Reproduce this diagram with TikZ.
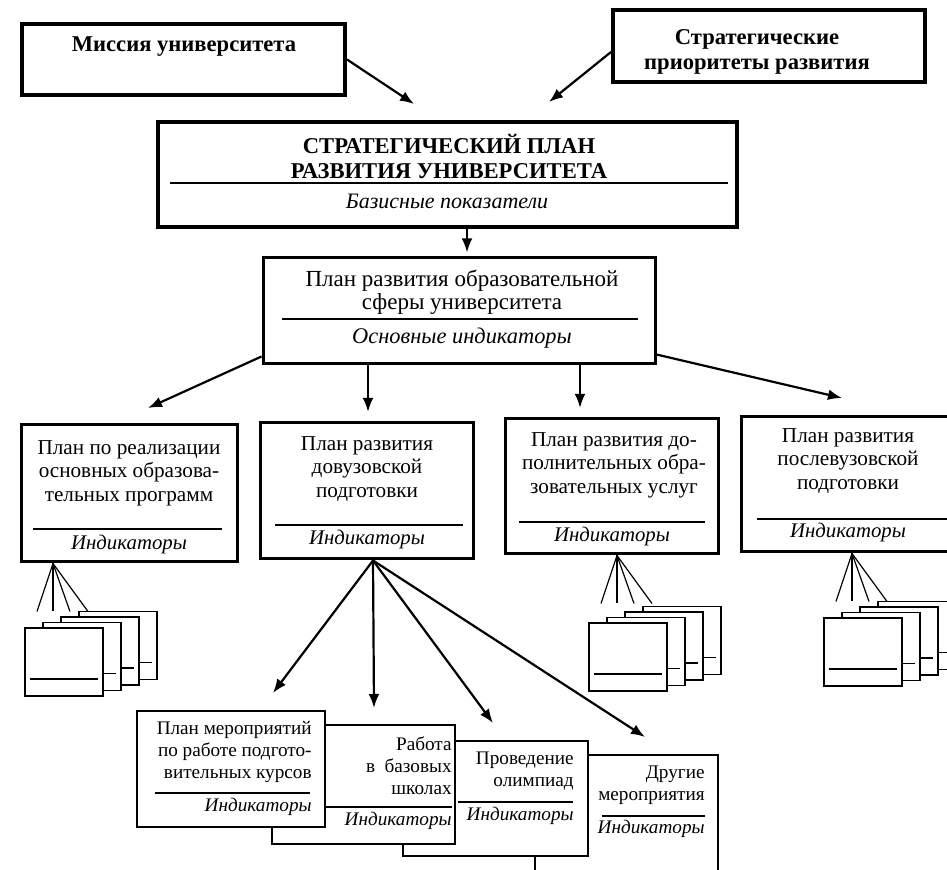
\documentclass[tikz,border=0pt]{standalone}
\usepackage{fontspec}
\setmainfont{Liberation Serif}
\usetikzlibrary{arrows.meta}

\begin{document}
\begin{tikzpicture}[x=0.5pt, y=-0.5pt,
    topbox/.style  = {draw, line width=2pt, inner sep=0pt},
    planbox/.style = {draw, fill=white, line width=1.5pt, inner sep=0pt},
    subbox/.style  = {draw, fill=white, line width=0.9pt, inner sep=0pt},
    card/.style    = {draw, fill=white, line width=0.7pt},
    head/.style    = {font=\fontsize{11.3}{12.5}\selectfont\bfseries, align=center, inner sep=0pt},
    txt/.style     = {font=\fontsize{10.6}{11.8}\selectfont, align=center, inner sep=0pt},
    small/.style   = {font=\fontsize{9.6}{11}\selectfont, align=right, inner sep=0pt, anchor=east},
    ind/.style     = {font=\fontsize{10.4}{12}\selectfont\itshape, inner sep=0pt},
    rule/.style    = {line width=0.7pt},
    arr/.style     = {line width=1.1pt, -{Latex[length=7pt, width=5.4pt]}},
    fan/.style     = {line width=0.6pt}]

  \useasboundingbox (0,0) rectangle (947,870);
  \clip (0,0) rectangle (947,870);

  % top level
  \node [topbox, minimum width=161.5pt, minimum height=35.5pt] (mission) at (183.5,59.5) {};
  \node [head] (missiontxt) at (184,47) {Миссия университета};

  \node [topbox, minimum width=156pt, minimum height=36pt] (prior) at (769,46) {};
  \node [head] (priortxt) at (757,52) {Стратегические\\приоритеты развития};

  \node [topbox, minimum width=289.5pt, minimum height=52.5pt] (strat) at (447.5,174.5) {};
  \node [head] (strattxt) at (449,156) {СТРАТЕГИЧЕСКИЙ ПЛАН\\РАЗВИТИЯ УНИВЕРСИТЕТА};
  \draw [line width=0.9pt] (170,183) -- (728,183);
  \node [ind, font=\fontsize{11}{12}\selectfont\itshape] (stratind) at (447,201) {Базисные показатели};

  \coordinate (mtip) at (414,104);
  \coordinate (ptip) at (549,102);
  \draw [arr] (mission.east) -- (mtip);
  \draw [arr] ([yshift=-3pt]prior.west) -- (ptip);

  % education plan
  \node [planbox, minimum width=196pt, minimum height=53pt] (edu) at (459,311) {};
  \node [txt, font=\fontsize{11.5}{11.5}\selectfont] (edutxt) at (462,292) {План развития образовательной\\сферы университета};
  \draw [rule] (282,319) -- (638,319);
  \node [ind, font=\fontsize{11.2}{12}\selectfont\itshape] (eduind) at (462,338) {Основные индикаторы};

  \draw [arr, shorten >=2pt] ([xshift=9.75pt]strat.south) -- ([xshift=4pt]edu.north);

  % second row
  \node [planbox, minimum width=108pt, minimum height=68.5pt] (basic) at (129,493.5) {};
  \node [txt] (basictxt) at (129,473) {План по реализации\\основных образова-\\тельных программ};
  \draw [rule] (33,529) -- (222,529);
  \node [ind] (basicind) at (129,544) {Индикаторы};

  \node [planbox, minimum width=106.5pt, minimum height=68pt] (pre) at (366.5,491) {};
  \node [txt] (pretxt) at (367,469) {План развития\\довузовской\\подготовки};
  \draw [rule] (275,525) -- (463,525);
  \node [ind] (preind) at (367,540) {Индикаторы};

  \node [planbox, minimum width=106.5pt, minimum height=67.5pt] (extra) at (611.5,486.5) {};
  \node [txt] (extratxt) at (614,465) {План развития до-\\полнительных обра-\\зовательных услуг};
  \draw [rule] (519,522) -- (705,522);
  \node [ind] (extraind) at (612,536) {Индикаторы};

  \node [planbox, minimum width=105.5pt, minimum height=67.5pt] (post) at (846.5,484.5) {};
  \node [txt] (posttxt) at (848,461) {План развития\\послевузовской\\подготовки};
  \draw [rule] (757,519) -- (947,519);
  \node [ind] (postind) at (848,533) {Индикаторы};

  \coordinate (tbasic) at (148,408);
  \coordinate (tpre)   at (368,412);
  \coordinate (textra) at (580,408);
  \coordinate (tpost)  at (842,398);
  \draw [arr] ([yshift=4.5pt]edu.south west) -- (tbasic);
  \draw [arr] ([xshift=-45.5pt]edu.south)    -- (tpre);
  \draw [arr] ([xshift=60.5pt]edu.south)     -- (textra);
  \draw [arr] ([yshift=5.5pt]edu.south east) -- (tpost);

  % indicator cards
  \foreach \bx/\ax/\cx/\cy in {basic/53/25/628, extra/617/589/623, post/852/824/618} {
    \foreach \dx [count=\j] in {-16,0,17,35}
      \coordinate (\bx-end-\j) at ([xshift=\dx*0.5pt, yshift=-24pt]\bx.south -| \ax,0);
    \foreach \j in {1,...,4}
      \draw [fan] (\bx.south -| \ax,0) -- (\bx-end-\j);
    \foreach \k in {3,2,1,0} {
      \draw [card] ({\cx+18*\k},{\cy-5.5*\k}) rectangle ++(78,68);
      \draw [card] ({\cx+18*\k+5},{\cy-5.5*\k+51}) -- ++(68,0);
    }
  }

  % pre-university activities
  \node [subbox, minimum width=91.5pt, minimum height=72.5pt] (other) at (626.5,827.5) {};
  \node [small] (othertxt) at (705,785) {Другие\\мероприятия};
  \draw [rule] (602,816) -- (705,816);
  \node [ind, anchor=east, font=\fontsize{9.6}{11}\selectfont\itshape] (otherind) at (705,829) {Индикаторы};

  \node [subbox, minimum width=92.5pt, minimum height=57.5pt] (olymp) at (495.5,798.5) {};
  \node [small] (olymptxt) at (574,771) {Проведение\\олимпиад};
  \draw [rule] (458,802) -- (573,802);
  \node [ind, anchor=east, font=\fontsize{9.6}{11}\selectfont\itshape] (olympind) at (574,816) {Индикаторы};

  \node [subbox, minimum width=91.5pt, minimum height=59.5pt] (school) at (363.5,784.5) {};
  \node [small] (schooltxt) at (452,766) {Работа\\в\ \ базовых\\школах};
  \draw [rule] (275,807) -- (452,807);
  \node [ind, anchor=east, font=\fontsize{9.6}{11}\selectfont\itshape] (schoolind) at (452,821) {Индикаторы};

  \node [subbox, minimum width=94pt, minimum height=58pt] (course) at (231,769) {};
  \node [small] (coursetxt) at (312,752) {План мероприятий\\по работе подгото-\\вительных курсов};
  \draw [rule] (155,793) -- (310,793);
  \node [ind, anchor=east, font=\fontsize{9.6}{11}\selectfont\itshape] (courseind) at (312,807) {Индикаторы};

  \coordinate (tcourse) at (273,693);
  \coordinate (tschool) at (374,708);
  \coordinate (tolymp)  at (493,723);
  \coordinate (tother)  at (645,737);
  \foreach \t in {tcourse, tschool, tolymp, tother}
    \draw [arr] (pre.south -| 373,0) -- (\t);
\end{tikzpicture}
\end{document}
